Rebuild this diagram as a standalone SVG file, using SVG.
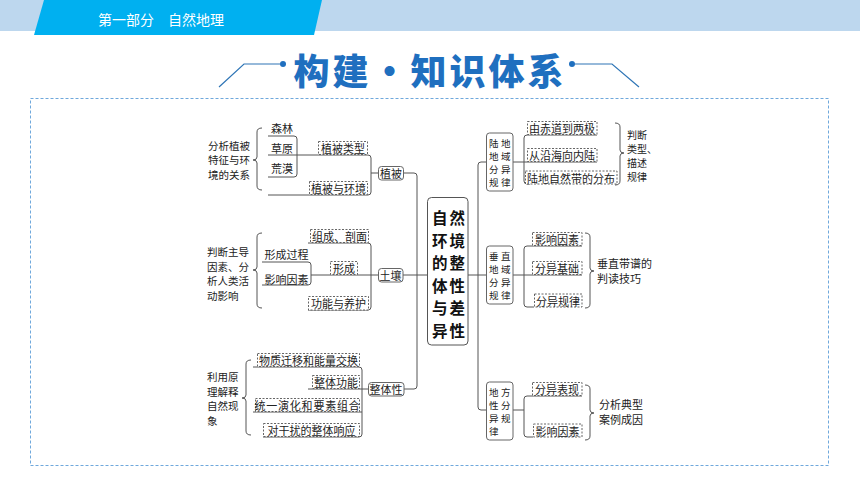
<svg xmlns="http://www.w3.org/2000/svg" width="860" height="484" viewBox="0 0 860 484">
<style>
.t{font-family:"Noto Sans CJK SC","Noto Sans",sans-serif;font-size:11px;fill:#222;dominant-baseline:central}
.c{text-anchor:middle}
.s{font-size:10.5px}
.tip{font-size:10px}
.v{font-size:9.5px;letter-spacing:2.5px}
.ln{fill:none;stroke:#555;stroke-width:1}
.db{fill:#fff;stroke:#555;stroke-width:0.9;stroke-dasharray:2 1.5}
.nb{fill:#fff;stroke:#666;stroke-width:1}
.big{font-size:15.5px;font-weight:bold;fill:#111;letter-spacing:2px}
</style>
<rect width="860" height="484" fill="#fff"/>
<g id="header">
<rect x="0" y="0" width="860" height="31" fill="#bdd7ee"/>
<polygon points="44,0 322,0 314,35 34,35" fill="#00b0f0"/>
<text x="98" y="19" class="t" style="font-size:14px;fill:#fff">第一部分　自然地理</text>
</g>
<g id="title">
<path d="M219,87 L244,64 H280 M575,64 H612 L639,87" fill="none" stroke="#2e75b6" stroke-width="1.2"/>
<circle cx="283" cy="64" r="3" fill="#1f6fbf"/>
<circle cx="572" cy="64" r="3" fill="#1f6fbf"/>
<text x="430" y="69" class="t c" style="font-size:36px;font-weight:900;fill:#1f6fbf;letter-spacing:3px">构建·知识体系</text>
</g>
<rect id="frame" x="30.5" y="98.5" width="798" height="367" fill="none" stroke="#6fa8dc" stroke-width="1" stroke-dasharray="3 2"/>
<g id="connectors">
<path class="ln" d="M268,136 H294 Q297,136 297,139 V174 Q297,177 294,177 H268"/>
<path class="ln" d="M268,155 H368 Q371,155 371,158 V192 Q371,195 368,195 H268"/>
<path class="ln" d="M371,173 H378"/>
<path class="ln" d="M404,173 H414 Q417,173 417,176 V386 Q417,389 414,389 H404"/>
<path class="ln" d="M403,275 H427"/>
<path class="ln" d="M262,262 H308 Q311,262 311,265 V282 Q311,285 308,285 H262"/>
<path class="ln" d="M311,275 H378"/>
<path class="ln" d="M308,243 H368 Q371,243 371,246 V307 Q371,310 368,310 H308"/>
<path class="ln" d="M253,367 H359 Q362,367 362,370 V434 Q362,437 359,437 H263"/>
<path class="ln" d="M308,389 H368"/>
<path class="ln" d="M253,412 H362"/>
<path class="ln" d="M486,162 H481 Q478,162 478,165 V407 Q478,410 481,410 H487"/>
<path class="ln" d="M468,275 H487"/>
<path class="ln" d="M513,162 H597"/>
<path class="ln" d="M597,135 H527 Q524,135 524,138 V181 Q524,184 527,184 H530"/>
<path class="ln" d="M513,275 H582"/>
<path class="ln" d="M582,246 H527 Q524,246 524,249 V304 Q524,307 527,307 H534"/>
<path class="ln" d="M513,410 H524"/>
<path class="ln" d="M582,396 H527 Q524,396 524,399 V434 Q524,437 527,437 H533"/>
<path class="ln" d="M262,128 Q257,128 257,132 V157 Q257,160 253,160 Q257,160 257,163 V186 Q257,190 262,190"/>
<path class="ln" d="M262,233 Q257,233 257,237 V267 Q257,270 253,270 Q257,270 257,273 V304 Q257,308 262,308"/>
<path class="ln" d="M251,360 Q246,360 246,364 V395 Q246,398 242,398 Q246,398 246,401 V431 Q246,435 251,435"/>
<path class="ln" d="M615,123 Q620,123 620,127 V150 Q620,153 624,153 Q620,153 620,156 V181 Q620,185 615,185"/>
<path class="ln" d="M585,233 Q590,233 590,237 V268 Q590,271 594,271 Q590,271 590,274 V304 Q590,308 585,308"/>
<path class="ln" d="M585,385 Q590,385 590,389 V410 Q590,413 594,413 Q590,413 590,416 V436 Q590,440 585,440"/>
</g>
<g id="t-veg-rel">
<text class="t s"><tspan x="208" y="144.5">分析植被</tspan><tspan x="208" y="159">特征与环</tspan><tspan x="208" y="173.5">境的关系</tspan></text>
</g>
<g id="n-forest"><text class="t c" x="282" y="128">森林</text></g>
<g id="n-grass"><text class="t c" x="282" y="148">草原</text></g>
<g id="n-desert"><text class="t c" x="282" y="168">荒漠</text></g>
<g id="n-vegtype"><rect class="db" x="318.5" y="141.5" width="49" height="13"/><text class="t c" x="343" y="148">植被类型</text></g>
<g id="n-vegenv"><rect class="db" x="309.5" y="181.5" width="58" height="13"/><text class="t c" x="338.5" y="188">植被与环境</text></g>
<g id="n-veg"><rect class="nb" x="378.5" y="166.5" width="25" height="13.5" rx="3"/><text class="t c" x="391" y="173">植被</text></g>
<g id="t-soil-rel">
<text class="t s"><tspan x="207" y="251">判断主导</tspan><tspan x="207" y="265.5">因素、分</tspan><tspan x="207" y="280">析人类活</tspan><tspan x="207" y="294.5">动影响</tspan></text>
</g>
<g id="n-process"><text class="t c" x="286.5" y="254">形成过程</text></g>
<g id="n-factor"><text class="t c" x="286.5" y="279">影响因素</text></g>
<g id="n-comp"><rect class="db" x="310.5" y="229.5" width="58" height="13"/><text class="t c" x="339.5" y="236">组成、剖面</text></g>
<g id="n-form"><rect class="db" x="330.5" y="261.5" width="27" height="13"/><text class="t c" x="344" y="268">形成</text></g>
<g id="n-func"><rect class="db" x="308.5" y="296.5" width="60" height="13.5"/><text class="t c" x="338.5" y="303">功能与养护</text></g>
<g id="n-soil"><rect class="nb" x="378.5" y="268.5" width="24.5" height="13.5" rx="3"/><text class="t c" x="390.5" y="275">土壤</text></g>
<g id="t-whole-rel">
<text class="t s"><tspan x="207" y="376">利用原</tspan><tspan x="207" y="390.5">理解释</tspan><tspan x="207" y="405">自然现</tspan><tspan x="207" y="419.5">象</tspan></text>
</g>
<g id="n-mat"><rect class="db" x="257.5" y="353.5" width="102" height="13"/><text class="t c" x="308.5" y="360">物质迁移和能量交换</text></g>
<g id="n-wfunc"><rect class="db" x="312.5" y="375.5" width="47" height="13"/><text class="t c" x="336" y="382">整体功能</text></g>
<g id="n-evo"><rect class="db" x="255.5" y="398.5" width="104" height="13"/><text class="t c" x="307.5" y="405" style="letter-spacing:0.8px">统一演化和要素组合</text></g>
<g id="n-resp"><rect class="db" x="263.5" y="423.5" width="96" height="13"/><text class="t c" x="311.5" y="430">对干扰的整体响应</text></g>
<g id="n-whole"><rect class="nb" x="368.5" y="382.5" width="35.5" height="13.5" rx="3"/><text class="t c" x="386" y="389">整体性</text></g>
<g id="n-center">
<rect class="nb" x="427.5" y="197.5" width="40.5" height="147.5" rx="4" style="stroke:#555"/>
<text class="t big"><tspan x="432" y="217">自然</tspan><tspan x="432" y="239.5">环境</tspan><tspan x="432" y="262">的整</tspan><tspan x="432" y="284.5">体性</tspan><tspan x="432" y="307">与差</tspan><tspan x="432" y="329.5">异性</tspan></text>
</g>
<g id="n-land">
<rect class="nb" x="486.5" y="133" width="26.5" height="58" rx="3"/>
<text class="t v"><tspan x="489" y="142.5">陆地</tspan><tspan x="489" y="155.5">地域</tspan><tspan x="489" y="168.5">分异</tspan><tspan x="489" y="181.5">规律</tspan></text>
</g>
<g id="n-eq"><rect class="db" x="527.5" y="121.5" width="69.5" height="13"/><text class="t c" x="562" y="128">由赤道到两极</text></g>
<g id="n-coast"><rect class="db" x="527.5" y="148.5" width="69.5" height="13"/><text class="t c" x="562" y="155">从沿海向内陆</text></g>
<g id="n-zone"><rect class="db" x="525.5" y="171" width="91.5" height="13"/><text class="t c" x="571" y="177.5">陆地自然带的分布</text></g>
<g id="t-land-tip">
<text class="t tip"><tspan x="627" y="133.5">判断</tspan><tspan x="627" y="147.5">类型、</tspan><tspan x="627" y="161.5">描述</tspan><tspan x="627" y="175.5">规律</tspan></text>
</g>
<g id="n-vert">
<rect class="nb" x="486.5" y="246" width="26.5" height="58" rx="3"/>
<text class="t v"><tspan x="489" y="255.5">垂直</tspan><tspan x="489" y="268.5">地域</tspan><tspan x="489" y="281.5">分异</tspan><tspan x="489" y="294.5">规律</tspan></text>
</g>
<g id="n-vfactor"><rect class="db" x="532.5" y="232.5" width="49.5" height="13"/><text class="t c" x="557" y="239">影响因素</text></g>
<g id="n-vbase"><rect class="db" x="532.5" y="261.5" width="49.5" height="13"/><text class="t c" x="557" y="268">分异基础</text></g>
<g id="n-vlaw"><rect class="db" x="534.5" y="294" width="47.5" height="13"/><text class="t c" x="558" y="300.5">分异规律</text></g>
<g id="t-vert-tip">
<text class="t"><tspan x="597" y="262.5">垂直带谱的</tspan><tspan x="597" y="278">判读技巧</tspan></text>
</g>
<g id="n-local">
<rect class="nb" x="486.5" y="382" width="26.5" height="58" rx="3"/>
<text class="t v"><tspan x="489" y="391.5">地方</tspan><tspan x="489" y="404.5">性分</tspan><tspan x="489" y="417.5">异规</tspan><tspan x="489" y="430.5">律</tspan></text>
</g>
<g id="n-lshow"><rect class="db" x="532.5" y="382.5" width="49.5" height="13"/><text class="t c" x="557" y="389">分异表现</text></g>
<g id="n-lfactor"><rect class="db" x="533.5" y="424" width="48.5" height="13"/><text class="t c" x="557.5" y="430.5">影响因素</text></g>
<g id="t-local-tip">
<text class="t"><tspan x="599" y="403.5">分析典型</tspan><tspan x="599" y="419">案例成因</tspan></text>
</g>
</svg>
